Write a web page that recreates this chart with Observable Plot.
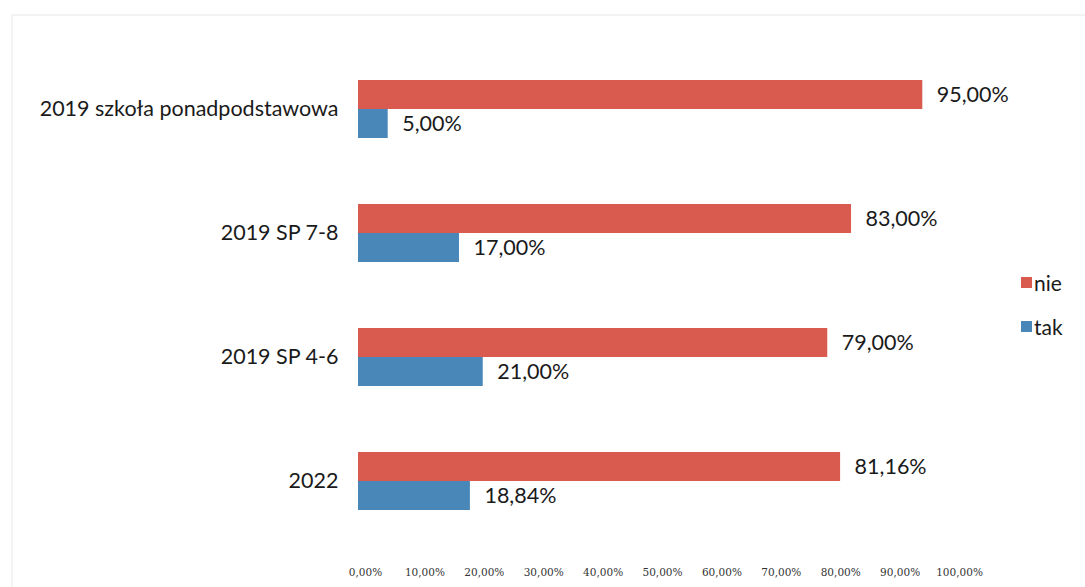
<!DOCTYPE html>
<html>
<head>
<meta charset="utf-8">
<script src="https://cdn.jsdelivr.net/npm/d3@7"></script>
<script src="https://cdn.jsdelivr.net/npm/@observablehq/plot@0.6"></script>
<style>
  html, body { margin: 0; padding: 0; background: #fff; }
  #wrap { position: relative; width: 1085px; height: 587px; overflow: hidden; }
  #frame { position: absolute; left: 11px; top: 14px; width: 1085px; height: 600px;
           border-left: 2px solid #f3f3f3; border-top: 2px solid #f3f3f3; }
  #legend { position: absolute; left: 1021px; top: 270px; font-family: Lato, "Open Sans", sans-serif;
            font-size: 21px; color: #1a1a1a; }
  #legend div { display: flex; align-items: center; height: 24px; margin-bottom: 20px; }
  #legend span.sw { display: inline-block; width: 11px; height: 11px; margin-right: 2px; }
</style>
</head>
<body>
<div id="wrap">
  <div id="frame"></div>
  <div id="chart"></div>
  <div id="legend"></div>
</div>
<script>
const categories = ["2019 szkoła ponadpodstawowa", "2019 SP 7-8", "2019 SP 4-6", "2022"];
const series = ["nie", "tak"];
const nieValues = [0.95, 0.83, 0.79, 0.8116];
const takValues = [0.05, 0.17, 0.21, 0.1884];
const xTicks = [0, 0.1, 0.2, 0.3, 0.4, 0.5, 0.6, 0.7, 0.8, 0.9, 1.0];
const colors = ["#d95b4f", "#4a87b9"];

const rows = [];
categories.forEach((c, i) => {
  rows.push({cat: c, s: "nie", v: nieValues[i]});
  rows.push({cat: c, s: "tak", v: takValues[i]});
});
const fmt = v => (v * 100).toFixed(2).replace(".", ",") + "%";

const chart = Plot.plot({
  width: 1085,
  height: 587,
  marginLeft: 358,
  marginRight: 133,
  marginTop: 52,
  marginBottom: 49,
  style: {fontFamily: "Lato, 'Open Sans', sans-serif", background: "transparent"},
  x: {domain: [0, 1], label: null},
  fy: {domain: categories, paddingInner: 0.1, paddingOuter: 0, label: null, axis: null},
  y: {domain: series, paddingInner: 0, paddingOuter: 0.9, axis: null},
  color: {domain: series, range: colors},
  marks: [
    Plot.axisX({ticks: xTicks, tickFormat: d => (d * 100).toFixed(2).replace(".", ",") + "%",
      tickSize: 0, tickPadding: 31, dx: 7, fontSize: 10.5, fill: "#333", fontFamily: "'DejaVu Serif', serif", label: null}),
    Plot.axisFy({domain: categories, anchor: "left", tickSize: 0, tickPadding: 20, fontSize: 21.5,
      fill: "#1a1a1a", label: null}),
    Plot.barX(rows, {fy: "cat", y: "s", x: "v", fill: "s"}),
    Plot.text(rows, {fy: "cat", y: "s", x: "v", text: d => fmt(d.v), textAnchor: "start",
      dx: 14, fontSize: 21.5, fill: "#1a1a1a"})
  ]
});
document.getElementById("chart").appendChild(chart);

const legend = document.getElementById("legend");
series.forEach((s, i) => {
  const d = document.createElement("div");
  d.innerHTML = `<span class="sw" style="background:${colors[i]}"></span>${s}`;
  legend.appendChild(d);
});
</script>
</body>
</html>
